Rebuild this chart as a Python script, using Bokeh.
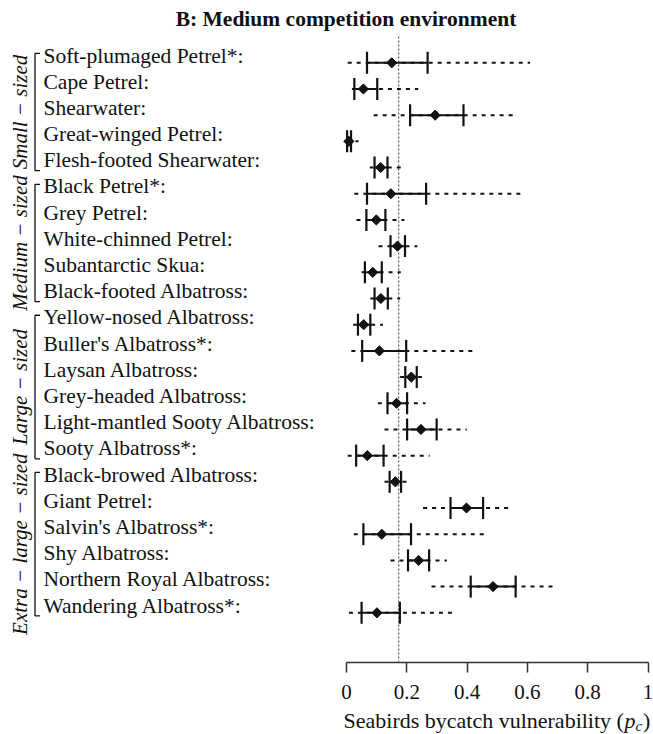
import numpy as np
from bokeh.plotting import figure
from bokeh.models import Range1d, FixedTicker, NumeralTickFormatter, LinearAxis
from bokeh.core.properties import value
from bokeh.embed import file_html
from bokeh.resources import INLINE

# ---------------- data ----------------
species = [
    "Soft-plumaged Petrel*:", "Cape Petrel:", "Shearwater:", "Great-winged Petrel:",
    "Flesh-footed Shearwater:",
    "Black Petrel*:", "Grey Petrel:", "White-chinned Petrel:", "Subantarctic Skua:",
    "Black-footed Albatross:",
    "Yellow-nosed Albatross:", "Buller's Albatross*:", "Laysan Albatross:",
    "Grey-headed Albatross:", "Light-mantled Sooty Albatross:", "Sooty Albatross*:",
    "Black-browed Albatross:", "Giant Petrel:", "Salvin's Albatross*:", "Shy Albatross:",
    "Northern Royal Albatross:", "Wandering Albatross*:",
]
group_names = ["Small \u2212 sized", "Medium \u2212 sized", "Large \u2212 sized",
               "Extra \u2212 large \u2212 sized"]
group_sizes = [5, 5, 6, 6]

p_median = [0.150, 0.056, 0.294, 0.008, 0.113, 0.147, 0.099, 0.169, 0.087, 0.114,
            0.057, 0.109, 0.215, 0.166, 0.247, 0.069, 0.162, 0.398, 0.117, 0.239,
            0.486, 0.101]
p_q25 = [0.068, 0.026, 0.211, 0.002, 0.093, 0.068, 0.066, 0.146, 0.061, 0.093,
         0.038, 0.052, 0.195, 0.136, 0.201, 0.032, 0.143, 0.345, 0.056, 0.204,
         0.412, 0.050]
p_q75 = [0.269, 0.102, 0.388, 0.015, 0.136, 0.264, 0.129, 0.194, 0.117, 0.137,
         0.079, 0.198, 0.233, 0.201, 0.299, 0.123, 0.181, 0.453, 0.214, 0.274,
         0.561, 0.177]
p_lo95 = [0.004, 0.018, 0.090, 0.000, 0.077, 0.026, 0.033, 0.106, 0.050, 0.079,
          0.022, 0.016, 0.178, 0.104, 0.126, 0.004, 0.126, 0.254, 0.024, 0.146,
          0.282, 0.008]
p_hi95 = [0.609, 0.238, 0.558, 0.040, 0.180, 0.581, 0.192, 0.235, 0.180, 0.178,
          0.121, 0.430, 0.250, 0.262, 0.399, 0.276, 0.201, 0.550, 0.468, 0.333,
          0.693, 0.364]
ref_value = 0.173
x_ticks = [0, 0.2, 0.4, 0.6, 0.8, 1]
title_text = "B: Medium competition environment"
axis_label_main = "Seabirds bycatch vulnerability ("
axis_label_var = "p"
axis_label_sub = "c"
axis_label_end = ")"

# ---------------- layout (pixels inside figure) ----------------
W, H = 653, 734
X0 = 346.0      # px of x = 0
XS = 301.5      # px per unit of x
ROW1 = 62.3     # px of first row centre
RS = 26.19      # px per row
AXIS_Y = 662    # px of x axis line
MID = 0.3375    # em distance from baseline to text middle
FONT = value("Liberation Serif")
INK = "#111111"


def dx(px):
    return (px - X0) / XS


def dy(px):
    return 1 + (px - ROW1) / RS


rows = np.arange(1, len(species) + 1)

p = figure(width=W, height=H, output_backend="svg", toolbar_location=None,
           x_range=Range1d(dx(0), dx(W)), y_range=Range1d(dy(H), dy(0)),
           x_axis_location=None, y_axis_location=None,
           min_border_left=0, min_border_right=0, min_border_top=0,
           min_border_bottom=0)
p.grid.visible = False
p.outline_line_color = None
p.background_fill_color = "white"
p.border_fill_color = "white"

ax = LinearAxis(fixed_location=dy(AXIS_Y))
ax.bounds = (0, 1)
ax.ticker = FixedTicker(ticks=x_ticks)
ax.formatter = NumeralTickFormatter(format="0.[0]")
ax.axis_line_color = "#333333"
ax.axis_line_width = 1.5
ax.major_tick_line_color = "#333333"
ax.major_tick_line_width = 1.5
ax.major_tick_out = 10
ax.major_tick_in = 0
ax.minor_tick_out = 0
ax.minor_tick_in = 0
ax.major_label_text_font = "Liberation Serif"
ax.major_label_text_font_size = "21px"
ax.major_label_text_color = INK
ax.major_label_standoff = 12
p.add_layout(ax, "below")

# reference line
p.segment(x0=[ref_value], y0=[dy(36)], x1=[ref_value], y1=[dy(AXIS_Y - 1)],
          line_color="#555555", line_width=1.2, line_dash="2 2")

# 95% dotted ranges
p.segment(x0=p_lo95, y0=rows, x1=p_hi95, y1=rows, line_color=INK,
          line_width=2, line_dash="4 5")
# inter-quartile solid ranges
p.segment(x0=p_q25, y0=rows, x1=p_q75, y1=rows, line_color=INK, line_width=2)
cap = 0.42
p.segment(x0=p_q25, y0=rows - cap, x1=p_q25, y1=rows + cap,
          line_color=INK, line_width=2.2)
p.segment(x0=p_q75, y0=rows - cap, x1=p_q75, y1=rows + cap,
          line_color=INK, line_width=2.2)
# medians
p.scatter(x=p_median, y=rows, marker="square", angle=np.pi / 4, size=7.2,
          fill_color=INK, line_color=INK)

# species labels (baseline on the row)
lab_size = 21.5
p.text(x=[dx(43)] * len(species), y=rows - MID * lab_size / RS, text=species,
       text_font=FONT, text_font_size=f"{lab_size}px", text_color=INK,
       text_align="left", text_baseline="middle")

# group brackets and labels
starts = np.cumsum([0] + group_sizes[:-1]) + 1
ends = starts + np.array(group_sizes) - 1
tops = starts - 0.36
bots = ends + 0.12
bx, hx = dx(34.5), dx(39.5)
p.segment(x0=[bx] * 4, y0=tops, x1=[bx] * 4, y1=bots, line_color=INK, line_width=1.3)
p.segment(x0=[bx] * 4, y0=tops, x1=[hx] * 4, y1=tops, line_color=INK, line_width=1.3)
p.segment(x0=[bx] * 4, y0=bots, x1=[hx] * 4, y1=bots, line_color=INK, line_width=1.3)
p.text(x=[dx(27 - MID * 21)] * 4, y=(tops + bots) / 2, text=group_names,
       angle=np.pi / 2, text_font=FONT, text_font_size="21px",
       text_font_style="italic", text_color=INK, text_align="center",
       text_baseline="middle")

# title
p.text(x=[dx(345.5)], y=[dy(26 - MID * 21.5)], text=[title_text], text_font=FONT,
       text_font_size="21.5px", text_font_style="bold", text_color=INK,
       text_align="center", text_baseline="middle")

# x-axis label (with italic p and subscript c)
lx = dx(343)
yb = 727
p.text(x=[lx], y=[dy(yb - MID * 22)], text=[axis_label_main], text_font=FONT,
       text_font_size="22px", text_color=INK, text_align="left",
       text_baseline="middle")
p.text(x=[lx], y=[dy(yb - MID * 22)], x_offset=281, text=[axis_label_var],
       text_font=FONT, text_font_size="22px", text_font_style="italic",
       text_color=INK, text_align="left", text_baseline="middle")
p.text(x=[lx], y=[dy(yb + 4 - MID * 15)], x_offset=292, text=[axis_label_sub],
       text_font=FONT, text_font_size="15px", text_font_style="italic",
       text_color=INK, text_align="left", text_baseline="middle")
p.text(x=[lx], y=[dy(yb - MID * 22)], x_offset=299.5, text=[axis_label_end],
       text_font=FONT, text_font_size="22px", text_color=INK, text_align="left",
       text_baseline="middle")

open("out.html", "w").write(file_html(p, INLINE))
